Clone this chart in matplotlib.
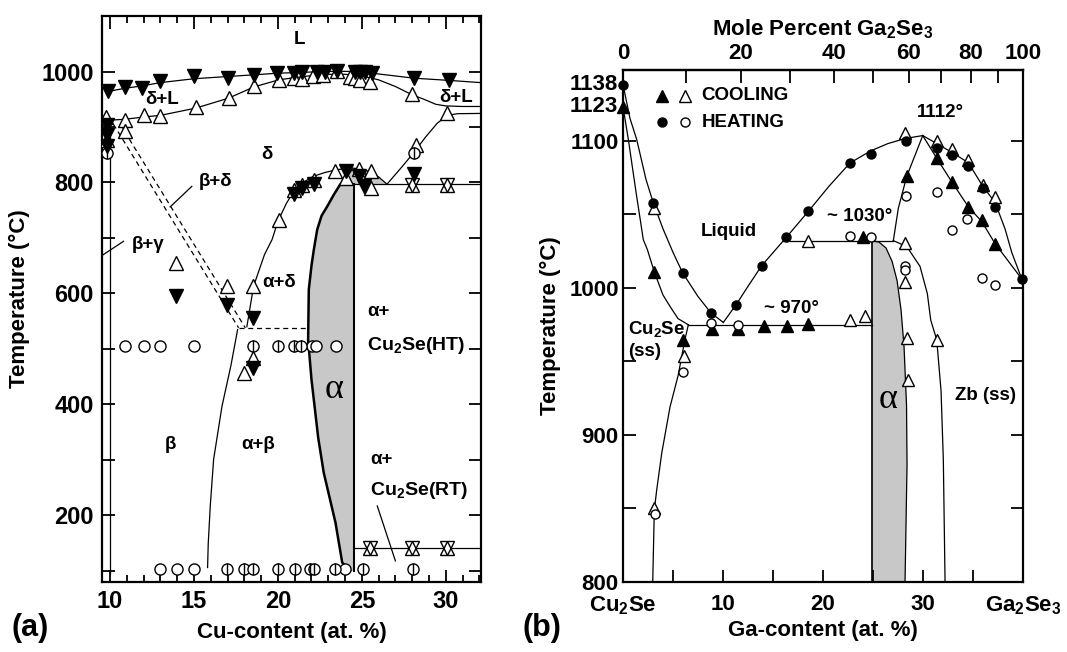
import numpy as np
import matplotlib
matplotlib.use('Agg')
import matplotlib.pyplot as plt
from matplotlib.ticker import MultipleLocator, FixedLocator, NullFormatter

plt.rcParams['font.family'] = ['Liberation Sans', 'DejaVu Sans']
plt.rcParams['font.weight'] = 'bold'
plt.rcParams['mathtext.fontset'] = 'custom'
plt.rcParams['mathtext.rm'] = 'Liberation Sans:bold'
plt.rcParams['mathtext.bf'] = 'Liberation Sans:bold'
plt.rcParams['mathtext.it'] = 'Liberation Sans:bold'
plt.rcParams['axes.linewidth'] = 1.6

# ---------------- Panel (a) data : Cu-content (at.%) vs T (°C) ----------------
liq_cu = [9.9, 10.9, 11.9, 13.0, 15.0, 17.0, 18.55, 20.0, 21.0, 22.3, 23.5, 24.6, 25.6, 27.0, 28.1, 30.2, 32.1]
liq_t = [964, 970, 974, 980, 987, 991, 994, 997, 998, 999.5, 1000.5, 1000, 997, 992, 988, 984, 980]

sol_cu = [9.5, 9.8, 10.9, 12.0, 13.0, 15.1, 17.06, 18.55, 20.05, 21.0, 22.1, 23.0, 24.0, 25.0, 26.0, 27.0, 28.0, 28.7, 29.4, 30.0, 31.0, 32.1]
sol_t = [911, 912, 914, 918, 921, 934, 952, 972, 985, 989, 993, 995, 995, 992, 985, 973, 958, 950, 941, 938, 937, 937]

dright_cu = [26.5, 27.3, 28.1, 28.8, 29.5, 30.1, 30.7, 32.1]
dright_t = [797, 825, 854, 882, 907, 921, 924, 924.5]

dad_cu = [18.15, 18.55, 19.2, 19.65, 20.0, 20.5, 21.0, 21.5, 22.1, 22.8, 23.5, 24.3, 24.9, 25.4, 26.0, 26.5]
dad_t = [540, 613, 670, 697, 730, 762, 787, 800, 811, 818, 823, 826, 825, 820, 810, 797]

bab_cu = [17.6, 17.2, 16.67, 16.17, 15.97, 15.85, 15.81]
bab_t = [535, 470, 397, 301, 217, 150, 106]

gamma_cu = [10.0, 10.0]
gamma_t = [910, 95]

dash1_cu = [10.2, 17.66]
dash1_t = [905, 538]
dash2_cu = [10.6, 18.06]
dash2_t = [905, 538]
dashh_cu = [17.66, 21.74]
dashh_t = [538, 538]

alpha_l_cu = [24.3, 23.83, 23.43, 22.73, 22.4, 22.0, 21.8, 21.84, 22.0, 22.14, 22.34, 22.6, 22.94, 23.33, 23.7, 24.03, 24.35]
alpha_l_t = [100, 115, 187, 277, 340, 445, 517, 607, 650, 679, 715, 740, 757, 778, 796, 808.5, 822]
alpha_r_cu = 24.53
ht_cu = [24.53, 32.1]
ht_t = [797, 797]
rt_cu = [24.53, 32.1]
rt_t = [142, 142]

# markers (a)
a_up_cu = [9.76, 9.84, 10.9, 10.9, 12.0, 13.0, 15.1, 17.06, 18.55, 20.05, 20.95, 21.45, 22.1, 22.7, 23.5, 24.3, 24.6, 24.9, 25.5, 28.0, 30.1,
           20.05, 20.95, 21.45, 22.14, 23.43, 24.03, 24.82, 25.52, 25.52, 28.2,
           13.94, 16.97, 18.52, 18.52, 17.96]
a_up_t = [918, 877, 912, 893, 921, 919.5, 936, 952.6, 973.5, 985.6, 988.6, 986.8, 992.8, 994.6, 1000.5, 990, 988, 985, 981, 958.6, 925.6,
          733, 787, 796, 805, 820, 808, 825, 820, 790, 868,
          655, 613, 613, 484, 457]
a_dn_cu = [9.84, 9.84, 9.84, 9.9, 10.9, 11.9, 13.0, 15.0, 17.0, 18.55, 19.95, 20.95, 21.45, 22.3, 22.8, 23.5, 24.6, 24.9, 25.2, 25.6, 28.1, 30.2,
           20.95, 21.45, 22.14, 24.03, 24.82, 25.12, 28.1,
           13.94, 16.97, 18.52, 18.52]
a_dn_t = [904, 885, 866, 964.5, 973, 970, 982.5, 991.6, 988.6, 994.6, 997.6, 997.6, 998.5, 1000, 1000, 1001, 1000, 1000, 1000, 997.6, 988.6, 985.6,
          780, 790, 797, 820, 811.6, 793, 816,
          595, 580, 556, 466]
a_star_cu = [28.0, 30.1, 25.5, 28.0, 30.1]
a_star_t = [795, 795, 142, 142, 142]
a_circ_cu = [10.9, 12.0, 13.0, 15.0, 22.04, 22.24, 23.49, 13.0, 14.0, 15.03, 23.97]
a_circ_t = [506, 506, 506, 506, 506, 506, 506, 103, 103, 103, 103]
a_bcirc_cu = [18.52, 19.99, 20.94, 21.39, 16.97, 17.96, 18.52, 20.0, 21.0, 21.94, 22.18, 23.43, 25.09, 28.05, 28.1, 9.84]
a_bcirc_t = [506, 506, 506, 506, 103, 103, 103, 103, 103, 103, 103, 103, 103, 103, 853, 853]

# ---------------- Panel (b) data : Ga-content (at.%) vs T (°C) ----------------
liqL_ga = [0, 0.7, 1.37, 2.3, 3.03, 4.0, 5.0, 5.97, 7.5, 8.8, 10.03]
liqL_t = [1138, 1115, 1100.7, 1073.5, 1057.6, 1040, 1024, 1010, 994, 982.8, 976.4]
liqR_ga = [10.03, 11.3, 12.6, 13.87, 16.3, 18.53, 20.6, 22.7, 24.77, 26.5, 28.27, 29.97]
liqR_t = [976.4, 988.4, 1002, 1015, 1034, 1051.9, 1069, 1084.8, 1093, 1098, 1101.5, 1103.4]
liqZ_ga = [29.97, 31.37, 32.87, 34.53, 35.97, 37.2, 38.2, 38.87, 39.87]
liqZ_t = [1103.4, 1098, 1092, 1085, 1069, 1058, 1040, 1024, 1006]
solZ_ga = [29.97, 31.37, 32.87, 34.53, 35.87, 37.2, 39.87]
solZ_t = [1103.4, 1088, 1072, 1055, 1045, 1030, 1006]
peak_ga = [29.97, 29.2, 28.37, 27.53, 27.03]
peak_t = [1103.4, 1090, 1075.7, 1054, 1032]
p1030_ga = [15.95, 27.03]
p1030_t = [1032, 1032]
p970_ga = [6.53, 24.87]
p970_t = [974.8, 974.8]
solL_ga = [0, 0.55, 1.3, 2.03, 2.43, 3.13, 4.0, 4.7, 5.5, 6.53]
solL_t = [1123, 1100, 1065, 1032.6, 1026, 1010.7, 995, 987.3, 979, 974.8]
ssL_ga = [6.53, 6.2, 5.5, 4.7, 4.2, 3.87, 3.37, 3.13, 2.97]
ssL_t = [974.8, 965, 940, 919, 900, 887.5, 862.6, 849, 800]
alphaR_ga = [24.87, 25.6, 26.3, 26.9, 27.4, 27.8, 28.1, 28.35, 28.4, 28.3, 28.2]
alphaR_t = [1032, 1031, 1027, 1018, 1005, 985, 960, 920, 880, 840, 800]
alphaL_ga = 24.87
zb_ga = [27.03, 28.37, 29.7, 30.43, 30.77, 31.37, 31.8, 32.03, 32.2]
zb_t = [1032, 1028, 1014.5, 996, 978, 964.6, 930, 883, 801]

b_fup_ga = [0, 3.13, 6.03, 8.87, 11.47, 14.1, 16.43, 18.53, 24.03, 28.37, 31.37, 32.87, 34.53, 35.87, 37.2]
b_fup_t = [1123, 1010.7, 964.6, 972, 972, 973.7, 974, 975, 1034.5, 1075.7, 1088, 1072, 1055, 1046, 1030]
b_oup_ga = [3.13, 6.1, 3.13, 18.5, 22.7, 24.2, 28.2, 28.2, 28.2, 28.37, 28.53, 31.37, 31.37, 32.87, 34.53, 35.97, 37.2]
b_oup_t = [1054, 953.7, 850, 1032, 978, 981, 1105, 1030.4, 1003.6, 965.8, 937.4, 964.6, 1099.5, 1094, 1087, 1070, 1061.7]
b_fc_ga = [0, 3.03, 5.97, 8.8, 11.3, 13.87, 16.3, 18.53, 22.7, 24.77, 28.27, 31.37, 32.87, 34.53, 35.97, 37.2, 39.87]
b_fc_t = [1138, 1057.6, 1010, 982.8, 988.4, 1015, 1034.5, 1051.9, 1084.8, 1091, 1099.5, 1095, 1090, 1083, 1067.6, 1055, 1006]
b_oc_ga = [6.03, 8.8, 11.47, 22.7, 24.77, 28.3, 28.2, 28.2, 31.37, 32.87, 34.43, 35.87, 37.2, 3.2]
b_oc_t = [943, 976, 974.5, 1035, 1034.5, 1062, 1014.5, 1012, 1065, 1039.5, 1046.7, 1006.6, 1001.6, 846]

mol_ticks = [0, 20, 40, 60, 80, 100]
mol_minor = [10, 30, 50, 70, 90]

# ---------------- Figure ----------------
fig = plt.figure(figsize=(10.67, 6.52), dpi=100)
axL = fig.add_axes([0.0956, 0.1074, 0.3552, 0.868])
axR = fig.add_axes([0.5839, 0.1074, 0.3749, 0.7853])

LW = 0.9
GRAY = '#c8c8c8'
lab = dict(fontsize=13.5, fontweight='bold', ha='center', va='center')

# ---- panel a ----
ax = axL
poly_cu = alpha_l_cu + [24.9, 25.4, 26.0, 26.5, alpha_r_cu, alpha_r_cu]
poly_t = alpha_l_t + [825, 820, 810, 797, 797, 100]
ax.fill(poly_cu, poly_t, color=GRAY, lw=0, zorder=1)
ax.plot(alpha_l_cu, alpha_l_t, 'k-', lw=1.8, zorder=2)
ax.plot([alpha_r_cu, alpha_r_cu], [100, 797], 'k-', lw=1.5, zorder=2)
for xs, ys in [(liq_cu, liq_t), (sol_cu, sol_t), (dright_cu, dright_t), (dad_cu, dad_t),
               (bab_cu, bab_t), (gamma_cu, gamma_t), (ht_cu, ht_t), (rt_cu, rt_t)]:
    ax.plot(xs, ys, 'k-', lw=LW, zorder=2)
for xs, ys in [(dash1_cu, dash1_t), (dash2_cu, dash2_t), (dashh_cu, dashh_t)]:
    ax.plot(xs, ys, 'k--', lw=LW, dashes=(4, 3), zorder=2)
# pointer lines
ax.plot([14.87, 13.58], [793, 756], 'k-', lw=LW)
ax.plot([10.8, 9.6], [694, 670], 'k-', lw=LW)
ax.plot([25.92, 27.0], [217, 118], 'k-', lw=LW)

ms_t = 9.5
ax.plot(a_up_cu, a_up_t, ls='none', marker='^', ms=ms_t, mfc='white', mec='k', mew=1, zorder=4)
ax.plot(a_dn_cu, a_dn_t, ls='none', marker='v', ms=ms_t, mfc='k', mec='k', mew=1, zorder=5)
ax.plot(a_star_cu, a_star_t, ls='none', marker='^', ms=ms_t, mfc='white', mec='k', mew=1, zorder=4)
ax.plot(a_star_cu, a_star_t, ls='none', marker='v', ms=ms_t, mfc='none', mec='k', mew=1, zorder=5)
ax.plot(a_circ_cu, a_circ_t, ls='none', marker='o', ms=8, mfc='white', mec='k', mew=1, zorder=4)
ax.plot(a_bcirc_cu, a_bcirc_t, ls='none', marker='o', ms=8, mfc='white', mec='k', mew=1, zorder=4)
ax.plot(a_bcirc_cu, a_bcirc_t, ls='none', marker='|', ms=8, mec='k', mew=1, zorder=5)

ax.text(21.3, 1058, 'L', **lab)
ax.text(13.1, 950, 'δ+L', **lab)
ax.text(30.6, 953, 'δ+L', **lab)
ax.text(19.36, 850, 'δ', **lab)
ax.text(16.27, 802, 'β+δ', **lab)
ax.text(12.29, 688, 'β+γ', **lab)
ax.text(20.05, 619, 'α+δ', **lab)
ax.text(25.3, 568, 'α+', fontsize=13.5, fontweight='bold', ha='left', va='center')
ax.text(25.3, 506, 'Cu$_2$Se(HT)', fontsize=14, fontweight='bold', ha='left', va='center')
ax.text(13.6, 328, 'β', **lab)
ax.text(18.85, 328, 'α+β', **lab)
ax.text(25.5, 301, 'α+', fontsize=13.5, fontweight='bold', ha='left', va='center')
ax.text(25.5, 244, 'Cu$_2$Se(RT)', fontsize=14, fontweight='bold', ha='left', va='center')
ax.text(23.33, 427, 'α', fontsize=26, fontweight='normal', family='Liberation Serif', ha='center', va='center')

ax.set_xlim(9.52, 32.1)
ax.set_ylim(80, 1100)
ax.xaxis.set_major_locator(FixedLocator([10, 15, 20, 25, 30]))
ax.xaxis.set_minor_locator(MultipleLocator(1))
ax.yaxis.set_major_locator(FixedLocator([200, 400, 600, 800, 1000]))
ax.yaxis.set_minor_locator(MultipleLocator(100))
ax.tick_params(which='both', direction='in', top=True, right=True, width=1.3)
ax.tick_params(which='major', length=9, labelsize=17, pad=6)
ax.tick_params(which='minor', length=5)
ax.tick_params(axis='y', which='minor', length=9)
ax.set_xlabel('Cu-content (at. %)', fontsize=16, fontweight='bold', labelpad=6)
ax.set_ylabel('Temperature (°C)', fontsize=16, fontweight='bold', labelpad=8)

# ---- panel b ----
ax = axR
polyb_ga = [alphaL_ga] + alphaR_ga
polyb_t = [800] + alphaR_t
ax.fill(polyb_ga, polyb_t, color=GRAY, lw=0, zorder=1)
ax.plot([alphaL_ga, alphaL_ga], [800, 1032], 'k-', lw=1.2, zorder=2)
for xs, ys in [(liqL_ga, liqL_t), (liqR_ga, liqR_t), (liqZ_ga, liqZ_t), (solZ_ga, solZ_t),
               (peak_ga, peak_t), (p1030_ga, p1030_t), (p970_ga, p970_t), (solL_ga, solL_t),
               (ssL_ga, ssL_t), (alphaR_ga, alphaR_t), (zb_ga, zb_t)]:
    ax.plot(xs, ys, 'k-', lw=LW, zorder=2)

ax.plot(b_fup_ga, b_fup_t, ls='none', marker='^', ms=9, mfc='k', mec='k', mew=1, zorder=4, clip_on=False)
ax.plot(b_oup_ga, b_oup_t, ls='none', marker='^', ms=9, mfc='white', mec='k', mew=1, zorder=4)
ax.plot(b_fc_ga, b_fc_t, ls='none', marker='o', ms=6.5, mfc='k', mec='k', mew=1, zorder=5, clip_on=False)
ax.plot(b_oc_ga, b_oc_t, ls='none', marker='o', ms=6.5, mfc='white', mec='k', mew=1, zorder=5)

# legend
ax.plot([3.87], [1130.6], ls='none', marker='^', ms=9, mfc='k', mec='k')
ax.plot([6.2], [1130.6], ls='none', marker='^', ms=9, mfc='white', mec='k')
ax.plot([3.87], [1112.5], ls='none', marker='o', ms=6.5, mfc='k', mec='k')
ax.plot([6.2], [1112.5], ls='none', marker='o', ms=6.5, mfc='white', mec='k')
ax.text(7.87, 1130.6, 'COOLING', fontsize=13.5, fontweight='bold', ha='left', va='center')
ax.text(7.87, 1112.5, 'HEATING', fontsize=13.5, fontweight='bold', ha='left', va='center')

ax.text(31.7, 1119, '1112°', **lab)
ax.text(23.7, 1048.5, '~ 1030°', **lab)
ax.text(10.53, 1038, 'Liquid', **lab)
ax.text(16.87, 986, '~ 970°', **lab)
ax.text(0.5, 971.9, 'Cu$_2$Se', fontsize=13.5, fontweight='bold', ha='left', va='center')
ax.text(0.5, 956.7, '(ss)', fontsize=13.5, fontweight='bold', ha='left', va='center')
ax.text(26.53, 924, 'α', fontsize=26, fontweight='normal', family='Liberation Serif', ha='center', va='center')
ax.text(36.2, 927, 'Zb (ss)', **lab)

ax.set_xlim(0, 40)
ax.set_ylim(800, 1148)
ax.xaxis.set_major_locator(FixedLocator([0, 10, 20, 30, 40]))
ax.set_xticklabels(['Cu$_2$Se', '10', '20', '30', 'Ga$_2$Se$_3$'])
ax.xaxis.set_minor_locator(FixedLocator([5, 15, 25, 35]))
ax.yaxis.set_major_locator(FixedLocator([800, 900, 1000, 1100]))
ax.yaxis.set_minor_locator(FixedLocator([850, 950, 1050]))
ax.tick_params(which='both', direction='in', right=True, width=1.3, length=9)
ax.tick_params(which='major', labelsize=16, pad=5)
ax.tick_params(axis='x', which='major', pad=9)
ax.tick_params(axis='y', which='major', pad=3)
ax.text(-0.012, 1138, '1138', transform=ax.get_yaxis_transform(), fontsize=16, fontweight='bold', ha='right', va='center')
ax.text(-0.012, 1123, '1123', transform=ax.get_yaxis_transform(), fontsize=16, fontweight='bold', ha='right', va='center')
ax.set_xlabel('Ga-content (at. %)', fontsize=16, fontweight='bold', labelpad=2)
ax.set_ylabel('Temperature (°C)', fontsize=16, fontweight='bold', labelpad=6)


def ga_to_mol(g):
    g = np.asarray(g, dtype=float)
    with np.errstate(divide='ignore', invalid='ignore'):
        return 300.0 * g / (200.0 - 2.0 * g)


def mol_to_ga(m):
    m = np.asarray(m, dtype=float)
    with np.errstate(divide='ignore', invalid='ignore'):
        return 200.0 * m / (300.0 + 2.0 * m)


sec = ax.secondary_xaxis('top', functions=(ga_to_mol, mol_to_ga))
sec.xaxis.set_major_locator(FixedLocator(mol_ticks))
sec.xaxis.set_minor_locator(FixedLocator(mol_minor))
sec.xaxis.set_minor_formatter(NullFormatter())
sec.tick_params(which='both', direction='in', width=1.3, length=9)
sec.tick_params(which='major', labelsize=16, pad=4)
sec.set_xlabel('Mole Percent Ga$_2$Se$_3$', fontsize=16, fontweight='bold', labelpad=6)
sec.spines['top'].set_linewidth(1.6)

fig.text(0.028, 0.037, '(a)', fontsize=22, fontweight='bold', ha='center', va='center')
fig.text(0.508, 0.037, '(b)', fontsize=22, fontweight='bold', ha='center', va='center')

fig.savefig('out.png', dpi=100)
